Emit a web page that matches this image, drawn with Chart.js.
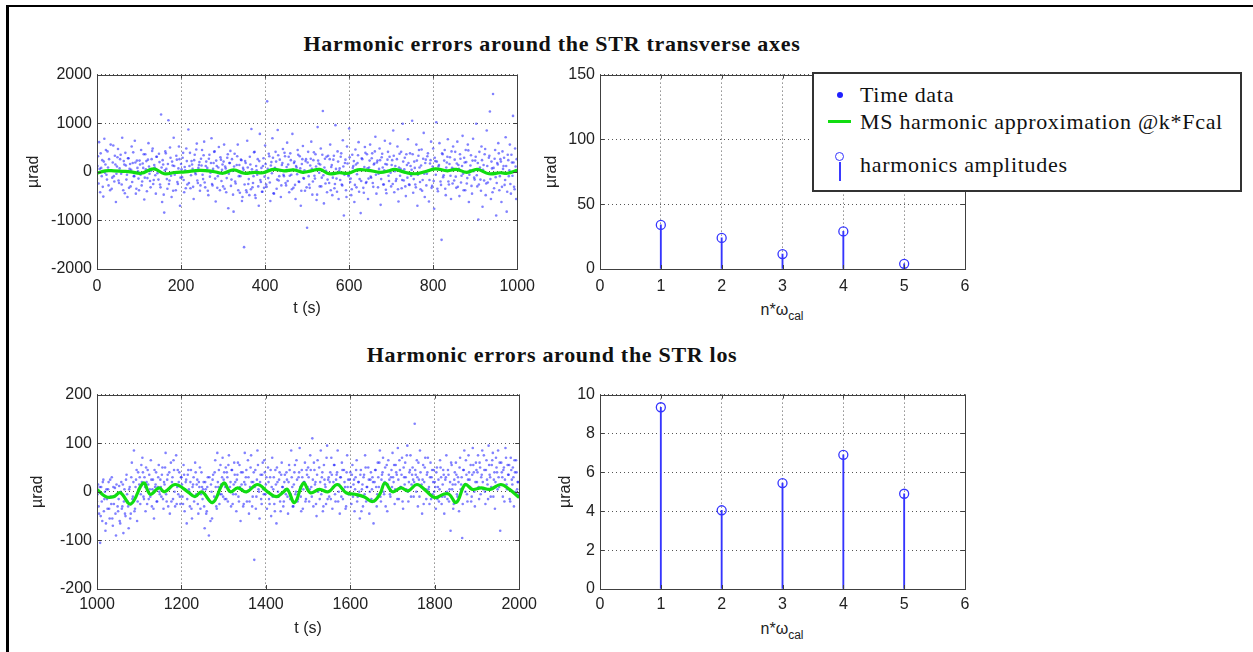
<!DOCTYPE html>
<html>
<head>
<meta charset="utf-8">
<title>Harmonic errors around the STR</title>
<script src="https://cdn.jsdelivr.net/npm/chart.js@4.4.0/dist/chart.umd.min.js"></script>
<style>
  body { margin: 0; background: #fff; }
  #page { position: relative; width: 1253px; height: 652px; overflow: hidden; background: #fff; }
  #frame { position: absolute; left: 6px; top: 5px; right: 0; bottom: 0; border-left: 3px solid #000; border-top: 2px solid #000; }
  canvas { position: absolute; }
  .titre { position: absolute; transform: translate(-50%, -50%); white-space: nowrap;
           font: bold 22px "Liberation Serif", "Times New Roman", serif; letter-spacing: .7px; color: #111; }
  .xlab { position: absolute; transform: translateX(-50%); white-space: nowrap;
          font: 16px "Liberation Sans", Arial, sans-serif; line-height: 16px; color: #222; }
  .xlab sub { font-size: 12px; vertical-align: -5px; line-height: 0; }
  #legenda { position: absolute; left: 812px; top: 72px; width: 430px; height: 120px; box-sizing: border-box;
             border: 2px solid #333; background: #fff; font: 22px "Liberation Serif", "Times New Roman", serif;
             letter-spacing: .7px; color: #111; }
  #legenda .txt { position: absolute; left: 46px; transform: translateY(-50%); white-space: nowrap; }
  .ponto { position: absolute; left: 23px; top: 18px; width: 6px; height: 6px; border-radius: 50%; background: #2020ff; }
  .linha { position: absolute; left: 14px; top: 46px; width: 23px; height: 3px; background: #11dd11; }
  .circ { position: absolute; left: 21px; top: 78px; width: 7px; height: 7px; border: 1.5px solid #3535ff; border-radius: 50%; }
  .haste { position: absolute; left: 25px; top: 88px; width: 2px; height: 19px; background: #3a3aff; }
</style>
</head>
<body>
<div id="page">
  <div id="frame"></div>
  <div class="titre" style="left:552px; top:44px">Harmonic errors around the STR transverse axes</div>
  <div class="titre" style="left:552px; top:355px">Harmonic errors around the STR los</div>
  <div class="xlab" style="left:782px; top:302px">n*ω<sub>cal</sub></div>
  <div class="xlab" style="left:782px; top:621px">n*ω<sub>cal</sub></div>
</div>
<script>
// Tempo das amostras (s): serie A em t0 + i*passo, serie B deslocada de meio passo
const inicioAxes = 0;
const inicioLos = 1000;
const passoTempo = 2.5;

// Dados no tempo - eixos transversais (µrad), serie A
const dadosAxes = [
  -150, 320, 610, -420, 80, 240, -510, 680, 150, -60, 420, -280, 30, 560, -350, 190, -90, 330, -620, 110,
  470, -230, 260, -40, 700, -380, 150, 390, -160, -520, 280, 60, -300, 520, 180, -90, 640, -450, 230, 10,
  -380, 150, 450, -200, 80, -570, 360, 220, -130, 590, -40, -320, 260, 480, -170, 90, -450, 310, 20, 370,
  -260, 1180, -620, 150, -840, 420, 60, -350, 1060, -180, 290, -520, 130, 700, -60, -380, 250, -250, 520, -700,
  160, -110, 390, -420, 30, 480, -260, 870, 120, -340, 220, 60, -560, 350, -50, 580, -230, 140, -390, 270,
  450, -150, 620, -320, 210, 80, -480, 350, -20, 690, -280, 180, 420, -610, 120, -90, 510, -380, 250, 40,
  -300, 560, 110, -420, 290, -750, 180, 430, -160, 20, -820, 370, -240, 140, 560, -90, -430, 250, -600, 80,
  -1550, 220, -380, 640, -250, -480, 150, 880, -320, -90, 410, -540, 30, 260, -700, 780, -210, -410, 120, -330,
  540, -260, 1450, -130, 320, -600, 200, 690, -440, 60, 410, -350, 860, -180, 250, -520, 140, 470, -90, 320,
  -280, 600, 150, -420, 380, -60, 780, -330, 210, -560, 90, 450, -200, 320, -700, 160, 530, -140, -390, 260,
  -1150, 410, -260, 130, 620, -470, 240, -80, 360, -580, 920, 170, -300, 480, -120, 1250, -650, 270, 20, -420,
  330, -230, 560, 100, -480, 250, -340, 960, -140, 420, -560, 70, 310, -260, 650, -900, 180, -380, 520, -60,
  890, -210, -480, 350, 120, -620, 460, -320, 180, 610, -150, -850, 280, 40, -430, 510, -230, 360, -560, 90,
  560, -120, 380, -310, 170, 720, -450, 230, -40, 480, -680, 300, 90, -260, 640, -370, 150, 410, -190, 580,
  -300, 240, 850, -420, 120, -150, 520, -610, 370, 60, -340, 990, -180, 290, -500, 140, 670, -260, 380, -80,
  1050, -430, 210, -260, 560, -700, 330, 90, -360, 460, -170, 800, -520, 250, -40, 380, -610, 170, 620, -290,
  480, -760, 220, 1020, -350, 110, 590, -200, -1400, 360, -70, 450, -480, 190, 670, -260, 300, -560, 80, 520,
  -180, 410, -330, 620, 140, -500, 270, -80, 740, -380, 190, 450, -240, 560, -620, 30, 340, -450, 680, -120,
  230, 990, -300, -980, 410, -160, 520, -720, 140, 360, -480, 850, -220, 290, 1240, -560, 70, 1600, -340, 450,
  -900, 180, 590, -380, 260, -620, 420, 120, -270, 710, -820, 350, -90, 560, -450, 190, 1150, -310, 480, -560
];

// Dados no tempo - eixos transversais (µrad), serie B
const dadosAxesB = [
  120, -240, 60, 380, -90, -310, 210, -20, 450, -160, 90, 260, -380, 30, -120, 540, -200, 150, -40, 300,
  -180, 70, 350, -260, 10, 220, -440, 130, -60, 280, -330, 160, 40, -210, 400, -90, 190, -350, 80, -140,
  230, -60, -280, 170, 360, -120, 50, -400, 250, 110, -190, 20, 430, -250, 140, -70, 310, -30, -160, 200,
  -320, 90, 240, -470, 30, 380, -150, 160, -250, 500, -80, 210, -390, 120, -10, 330, -210, 70, 260, -120,
  50, 290, -170, 100, -340, 220, 10, -230, 390, -70, 150, -310, 240, -20, 460, -180, 80, 200, -280, 130,
  -60, 340, -220, 120, 20, -390, 270, -100, 180, -250, 60, 410, -140, 230, -330, 90, -30, 300, -190, 150,
  210, -350, 70, -130, 360, -40, 180, -290, 260, -470, 110, -200, 30, 320, -380, 140, -90, 240, -520, 40,
  -260, 180, -420, 90, -150, 310, -360, 50, -230, 400, -480, 120, -60, -300, 220, -170, 80, -410, 280, -100,
  160, -310, 60, 370, -220, 130, -30, 290, -450, 80, 210, -160, 340, -90, 20, -280, 180, -60, 390, -230,
  100, -190, 310, -80, 240, -360, 40, 180, -270, 120, -50, 350, -210, 70, -390, 260, -130, 30, 220, -320,
  190, -90, -330, 270, 60, -200, 400, -140, 110, -470, 230, -20, 150, -300, 350, -70, 90, -240, 310, -160,
  -30, 260, -380, 140, -120, 330, -250, 60, -410, 210, 20, -170, 380, -280, 110, -60, 250, -520, 170, -90,
  300, -140, -360, 80, 220, -270, 150, -50, 340, -410, 40, -190, 260, -330, 100, 390, -210, 70, -140, 230,
  -100, 280, -230, 150, 420, -60, 190, -320, 60, 240, -150, 370, -260, 30, 160, -440, 250, -80, 310, -20,
  140, -250, 330, 10, -190, 260, -360, 90, -80, 410, -170, 210, 50, -300, 360, -120, 180, -270, 120, 40,
  360, -150, 80, -320, 230, -60, 450, -210, 130, -390, 270, -40, 180, -280, 320, 20, -170, 240, -330, 110,
  -190, 290, -60, 210, -400, 140, 40, -270, 380, -110, 230, -350, 90, 310, -200, 160, -80, 420, -240, 60,
  250, -100, 170, -310, 60, 360, -220, 120, -40, 290, -380, 200, -130, 440, -60, 130, -290, 230, 10, -160,
  310, -70, 180, -260, 90, -390, 240, 40, -180, 470, -240, 120, -30, 330, -150, 210, -420, 80, 270, -110,
  -230, 150, 380, -90, 210, -310, 60, 290, -170, 120, -410, 240, 30, -250, 350, -80, 190, -360, 110, 260
];

// Dados no tempo - linha de visada (µrad), serie A
const dadosLos = [
  -20, 15, -45, -105, 10, -60, 25, -15, -80, 5, -35, 20, -55, -10, 30, -70, -25, 8, -90, -5,
  -40, 12, -65, 20, -30, -85, 5, -50, 35, -20, -75, 10, -45, 60, -10, 85, -35, 25, -60, 40,
  15, -25, 55, 70, -10, 30, -40, 20, 45, -15, 5, 65, -30, 25, -55, 10, 40, -20, 30, 0,
  25, -10, 50, -35, 15, 80, -20, 35, 5, -45, 60, 20, -15, 45, -30, 75, 10, -5, 40, -25,
  30, -10, 55, -40, 20, -65, 35, 5, -30, 45, -55, 15, -20, 60, -5, 25, -45, 10, -35, 40,
  -15, 20, -75, 5, -40, 30, -90, -20, 15, -55, 35, -10, 65, -30, 80, 10, -25, 55, -5, 70,
  25, -15, 50, 40, -20, 75, 10, -30, 45, -5, 60, 20, -40, 35, -10, 55, -60, 15, 40, -25,
  80, 30, -20, 65, -45, 10, 75, -30, 20, -140, 45, -10, 85, 5, -55, 35, -25, 60, -5, 40,
  15, -35, 50, -15, 30, -50, 70, 5, -25, 45, -65, 20, -10, 40, -40, 60, 10, -20, 35, -5,
  25, -45, 55, -15, 85, 10, -30, 40, -5, 65, -20, 30, 90, -10, 45, -35, 20, 60, -15, 35,
  50, -20, 75, 10, 110, -30, 45, 20, -50, 65, 5, -15, 85, 30, -40, 55, 15, -25, 95, 25,
  -10, 40, 70, -35, 20, 55, -20, 35, 85, 0, -45, 30, 60, -15, 45, 10, -30, 75, 25, -5,
  40, -25, 55, 15, -40, 30, 65, -10, 20, -55, 45, 5, -30, 35, 75, -20, 10, 50, -45, 25,
  -15, 30, -65, 20, 45, -30, 60, 10, 85, -20, 35, 70, -5, 50, 15, -40, 65, 25, -10, 45,
  80, 20, -25, 55, 35, 90, -15, 45, 10, 70, -35, 30, 60, 5, 95, -20, 40, 75, 15, 50,
  -10, 140, 35, 65, -30, 25, 85, 10, -45, 55, 20, 70, -15, 40, 5, -25, 60, 30, -5, 45,
  20, -35, 50, 10, -20, 65, 30, -10, 45, -45, 25, 75, -15, 35, 5, -80, 55, 15, -25, 40,
  60, -5, 30, -40, 70, 15, -95, 45, 85, 0, 35, -20, 75, 25, 55, -10, 90, 40, -30, 60,
  20, 75, -15, 50, 30, 85, 5, 45, -25, 65, 15, 95, 35, -10, 55, 80, 25, -35, 70, 40,
  85, 10, -80, 60, 30, 45, -20, 90, 15, 55, 35, -15, 70, 25, 50, -30, 40, 65, 5, 20
];

// Dados no tempo - linha de visada (µrad), serie B
const dadosLosB = [
  -5, -30, 10, -50, -20, 20, -40, 0, -65, -15, 5, -35, 25, -25, -55, 10, -10, -45, 15, -30,
  -15, -60, 0, -35, 15, -20, -45, 25, -5, -30, 5, -55, 30, -15, 20, -40, 10, 45, -20, 5,
  30, -5, 20, 40, -15, 10, 50, -25, 15, 35, -10, 25, 5, -35, 45, 15, -20, 10, 55, -5,
  10, 35, -15, 20, 50, -5, 25, -30, 40, 10, -20, 30, 65, 0, 15, -25, 45, 20, -10, 30,
  15, -25, 35, 5, 25, -15, 45, 0, 20, -35, 10, 30, -10, 40, 15, -25, 20, 50, -5, 10,
  5, -30, 20, -45, 10, -15, 30, -60, 0, 25, -20, 40, 10, -35, 20, 45, -5, 15, 30, -10,
  40, 10, -15, 30, 55, 0, 20, 45, -25, 15, 35, -5, 25, 60, -20, 10, 40, 5, -30, 20,
  15, 45, 0, 30, -20, 50, 20, -10, 40, 10, -35, 25, 55, 0, 20, -15, 35, 5, 65, -5,
  30, 0, 20, -25, 45, 10, -10, 30, -40, 15, 50, 0, 25, -20, 35, 10, -30, 20, 5, 40,
  -10, 20, 45, -5, 30, -30, 15, 55, 0, 25, -15, 40, 10, -40, 30, 5, 20, -20, 45, 10,
  30, 5, 45, -10, 25, 60, 15, -25, 35, 0, 50, 20, -5, 40, -30, 25, 10, 70, -15, 30,
  20, -15, 35, 10, 55, -5, 25, 40, -20, 15, 30, -10, 45, 5, 20, -35, 40, 10, -5, 25,
  10, 35, -10, 25, 5, 45, -20, 20, 0, 35, -40, 15, 30, -5, 50, 10, -15, 25, 0, 40,
  5, 20, -20, 45, 10, -5, 30, 60, -10, 25, 40, 0, 20, -30, 55, 15, 35, -5, 30, 10,
  30, 55, 5, 40, -15, 25, 65, 10, 35, -20, 50, 15, 30, 75, 0, 20, 45, -10, 35, 25,
  20, 45, 0, 30, 60, -10, 40, 15, 25, -25, 50, 5, 35, 70, 10, 30, -15, 45, 20, 0,
  10, 40, -15, 25, 5, 50, -25, 15, 35, -10, 30, 0, 45, -20, 20, 60, 5, -35, 25, 15,
  35, -10, 20, 50, 5, 30, -25, 45, 15, 65, -5, 25, 40, 10, -20, 35, 55, 0, 20, 45,
  40, 10, 60, -5, 35, 20, 75, 0, 45, 25, -15, 55, 30, 10, 65, -10, 40, 20, 50, 5,
  30, 60, 15, 40, -10, 50, 25, 70, 5, 35, 55, -20, 45, 15, 30, 65, 0, 40, 20, -5
];

// Aproximação harmônica (curva verde)
const ajusteTempoAxes = [0, 20, 40, 60, 80, 105, 135, 160, 185, 210, 245, 275, 300, 325, 350, 375, 395, 420, 445, 468,
  490, 510, 530, 552, 577, 598, 620, 645, 675, 695, 708, 737, 758, 780, 805, 834, 855, 880, 905, 933, 960, 977, 1000];
const ajusteAxes = [-30, 20, 20, 10, 0, -30, 60, -40, -15, 0, 30, 10, -30, 40, -30, -10, -20, 50, 20, 40,
  -10, 20, 50, -40, -20, -30, 40, 30, -10, 20, 50, -20, -40, 0, 60, 20, 50, -10, 50, -40, -20, -30, 30];
const ajusteTempoLos = [1000, 1021, 1040, 1055, 1080, 1110, 1126, 1147, 1160, 1185, 1215, 1232, 1248, 1274, 1300, 1316, 1333,
  1354, 1380, 1404, 1425, 1442, 1451, 1468, 1489, 1505, 1527, 1548, 1569, 1590, 1611, 1632, 1653, 1670, 1682, 1700,
  1720, 1737, 1758, 1779, 1800, 1821, 1834, 1851, 1872, 1889, 1910, 1931, 1956, 1977, 2000];
const ajusteLos = [5, -10, -10, -2, -25, 18, -5, 8, 0, 15, 0, -10, 0, -22, 18, 0, 8, 0, 15, 0, -10, 0, 5, -22, 18,
  -2, 5, 0, 15, -2, -5, -10, -20, -5, 18, 0, 8, 2, 15, 2, -12, -5, -5, -22, 15, 5, 8, 5, 15, 5, -12];

// Amplitudes dos harmônicos
const harmonicos = [1, 2, 3, 4, 5];
const amplitudesAxes = [34, 24, 11.5, 29, 4];
const amplitudesLos = [9.35, 4.05, 5.45, 6.9, 4.9];

// Rótulos dos eixos
const ticksTempoAxes = [0, 200, 400, 600, 800, 1000];
const ticksTempoLos = [1000, 1200, 1400, 1600, 1800, 2000];
const ticksErroAxes = [-2000, -1000, 0, 1000, 2000];
const ticksErroLos = [-200, -100, 0, 100, 200];
const ticksHarm = [0, 1, 2, 3, 4, 5, 6];
const ticksAmpAxes = [0, 50, 100, 150];
const ticksAmpLos = [0, 2, 4, 6, 8, 10];

const fonteEixo = { family: '"Liberation Sans", Arial, sans-serif', size: 16 };
const azulStem = '#3535ff';

// Caixa estilo MATLAB com marcas internas
const caixaMatlab = {
  id: 'caixaMatlab',
  afterDraw(chart) {
    const { ctx, chartArea: a, scales } = chart;
    ctx.save();
    ctx.strokeStyle = '#404040';
    ctx.lineWidth = 1;
    ctx.beginPath();
    scales.x.ticks.forEach(t => {
      const px = Math.round(scales.x.getPixelForValue(t.value)) + 0.5;
      ctx.moveTo(px, a.bottom); ctx.lineTo(px, a.bottom - 4);
      ctx.moveTo(px, a.top); ctx.lineTo(px, a.top + 4);
    });
    scales.y.ticks.forEach(t => {
      const py = Math.round(scales.y.getPixelForValue(t.value)) + 0.5;
      ctx.moveTo(a.left, py); ctx.lineTo(a.left + 4, py);
      ctx.moveTo(a.right, py); ctx.lineTo(a.right - 4, py);
    });
    ctx.stroke();
    ctx.strokeRect(Math.round(a.left) + 0.5, Math.round(a.top) + 0.5, Math.round(a.width), Math.round(a.height));
    ctx.restore();
  }
};

function eixo(lista, tamanho, horizontal, titulo, pad) {
  return {
    type: 'linear',
    min: lista[0],
    max: lista[lista.length - 1],
    offset: false,
    afterBuildTicks: s => { s.ticks = lista.map(v => ({ value: v })); },
    afterFit: s => { if (horizontal) s.height = tamanho; else s.width = tamanho; },
    grid: { color: '#555', drawTicks: false, offset: false },
    border: { display: false, dash: [1, 3] },
    ticks: { padding: pad, color: '#222', font: fonteEixo, maxRotation: 0, autoSkip: false, callback: v => String(v) },
    title: titulo
      ? { display: true, text: titulo, color: '#222', font: fonteEixo, padding: horizontal ? { top: 0, bottom: 1 } : 0 }
      : { display: false }
  };
}

function criarCanvas(left, top, width, height) {
  const c = document.createElement('canvas');
  c.width = width; c.height = height;
  c.style.left = left + 'px'; c.style.top = top + 'px';
  c.style.width = width + 'px'; c.style.height = height + 'px';
  document.getElementById('page').appendChild(c);
  return c.getContext('2d');
}

const basico = {
  responsive: false,
  animation: false,
  events: [],
  layout: { padding: { left: 0, right: 20, top: 12, bottom: 0 } },
  plugins: { legend: { display: false }, tooltip: { enabled: false } }
};

// Gráfico temporal: pontos + aproximação
function graficoTempo(g, inicio, dadosA, dadosB, tAjuste, vAjuste, ticksX, ticksY, largY, padX) {
  const pontos = dadosA.map((v, i) => ({ x: inicio + i * passoTempo, y: v }))
    .concat(dadosB.map((v, i) => ({ x: inicio + (i + 0.5) * passoTempo, y: v })));
  const curva = tAjuste.map((t, i) => ({ x: t, y: vAjuste[i] }));
  new Chart(criarCanvas(g.left, g.top, g.width, 259), {
    type: 'scatter',
    data: {
      datasets: [
        { label: 'MS harmonic approximation @k*Fcal', data: curva, showLine: true, borderColor: '#11dd11',
          borderWidth: 3.2, pointRadius: 0, tension: 0.4, order: 0 },
        { label: 'Time data', data: pontos, pointStyle: 'circle', pointRadius: 1.3, borderWidth: 0,
          backgroundColor: 'rgba(25,25,255,0.55)', order: 1 }
      ]
    },
    options: Object.assign({}, basico, {
      scales: { x: eixo(ticksX, 50, true, 't (s)', padX), y: eixo(ticksY, largY, false, 'µrad', 5) }
    }),
    plugins: [caixaMatlab]
  });
}

// Gráfico de hastes (stem)
function graficoHastes(g, amplitudes, ticksY, largY, padX) {
  const hastes = harmonicos.map((n, i) => ({ x: n, y: amplitudes[i] }));
  new Chart(criarCanvas(g.left, g.top, g.width, 259), {
    type: 'bar',
    data: {
      datasets: [
        { type: 'scatter', label: 'harmonics amplitudes', data: hastes, pointStyle: 'circle', pointRadius: 4.5,
          borderColor: azulStem, borderWidth: 1.3, backgroundColor: 'rgba(0,0,0,0)', order: 0 },
        { type: 'bar', data: hastes, backgroundColor: azulStem, barThickness: 1.2, order: 1 }
      ]
    },
    options: Object.assign({}, basico, {
      scales: { x: eixo(ticksHarm, 50, true, null, padX), y: eixo(ticksY, largY, false, 'µrad', 5) }
    }),
    plugins: [caixaMatlab]
  });
}

graficoTempo({ left: 24, top: 60, width: 519 }, inicioAxes, dadosAxes, dadosAxesB, ajusteTempoAxes, ajusteAxes, ticksTempoAxes, ticksErroAxes, 73, 8);
graficoTempo({ left: 28, top: 380, width: 515 }, inicioLos, dadosLos, dadosLosB, ajusteTempoLos, ajusteLos, ticksTempoLos, ticksErroLos, 69, 6);
graficoHastes({ left: 542, top: 60, width: 443 }, amplitudesAxes, ticksAmpAxes, 58, 8);
graficoHastes({ left: 556, top: 380, width: 429 }, amplitudesLos, ticksAmpLos, 44, 6);

// Legenda (por cima do gráfico superior direito)
const legenda = document.createElement('div');
legenda.id = 'legenda';
legenda.innerHTML =
  '<div class="ponto"></div><div class="txt" style="top:21px">Time data</div>' +
  '<div class="linha"></div><div class="txt" style="top:48px">MS harmonic approximation @k*Fcal</div>' +
  '<div class="circ"></div><div class="haste"></div><div class="txt" style="top:91px">harmonics amplitudes</div>';
document.getElementById('page').appendChild(legenda);
</script>
</body>
</html>
